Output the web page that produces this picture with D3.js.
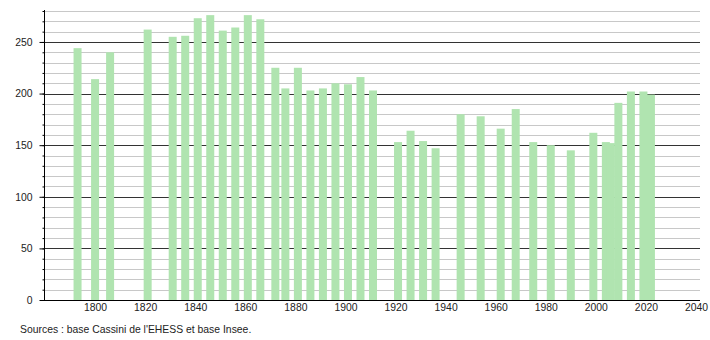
<!DOCTYPE html>
<html>
<head>
<meta charset="utf-8">
<script src="https://cdn.jsdelivr.net/npm/d3@7"></script>
<style>
  body { margin: 0; background: #fff; }
  svg { font-family: "Liberation Sans", Arial, sans-serif; }
</style>
</head>
<body>
<script>
// census years and population
var years = [1793, 1800, 1806, 1821, 1831, 1836, 1841, 1846, 1851, 1856, 1861, 1866,
	1872, 1876, 1881, 1886, 1891, 1896, 1901, 1906, 1911, 1921, 1926, 1931, 1936,
	1946, 1954, 1962, 1968, 1975, 1982, 1990, 1999, 2004, 2006, 2009, 2014, 2019, 2022];
var population = [244, 214, 240, 262, 255, 256, 273, 276, 261, 264, 276, 272,
	225, 205, 225, 203, 205, 210, 209, 216, 203, 153, 164, 154, 147,
	180, 178, 166, 185, 153, 150, 145, 162, 153, 152, 191, 202, 202, 199];

var xTicks = [1800, 1820, 1840, 1860, 1880, 1900, 1920, 1940, 1960, 1980, 2000, 2020, 2040];
var yMajor = [0, 50, 100, 150, 200, 250];
var yMinor = d3.range(0, 290, 10);
var source = "Sources : base Cassini de l'EHESS et base Insee.";

var width = 710,
		height = 340;

// plot edges (not "top": that name is taken by window.top)
var plotLeft = 44, plotRight = 700, plotBottom = 300, plotTop = 11;
var fontSize = 10.4;

var x = d3.scaleLinear()
	.domain([1780, 2042])
	.range([plotLeft + 1, plotRight + 1]);

var y = d3.scaleLinear()
	.domain([0, 280])
	.range([plotBottom, plotTop]);

var svg = d3.select('body')
	.append('svg')
	.attr('width', width)
	.attr('height', height);

// gridlines, dark every 50
svg.append('g')
	.selectAll('line')
	.data(yMinor.filter(function(d) { return d > 0; }))
	.enter().append('line')
	.attr('x1', plotLeft)
	.attr('x2', plotRight)
	.attr('y1', function(d) { return Math.round(y(d)) + 0.5; })
	.attr('y2', function(d) { return Math.round(y(d)) + 0.5; })
	.attr('stroke', function(d) { return d % 50 === 0 ? '#333' : '#c8c8c8'; })
	.attr('stroke-width', 1);

// bars
svg.append('g')
	.selectAll('rect')
	.data(years)
	.enter().append('rect')
	.attr('x', function(d) { return x(d) - 4; })
	.attr('width', 8)
	.attr('y', function(d, i) { return y(population[i]); })
	.attr('height', function(d, i) { return plotBottom - y(population[i]); })
	.attr('fill', '#b0e4b0');

// y axis: minor then major ticks
var yMinorAxis = d3.axisLeft(y).tickValues(yMinor).tickSize(2).tickFormat('');
var yAxis = d3.axisLeft(y).tickValues(yMajor).tickSize(5).tickPadding(7);

svg.append('g')
	.attr('transform', 'translate(' + (plotLeft + 0.5) + ',0)')
	.call(yMinorAxis)
	.call(function(g) { g.select('.domain').remove(); });

var gy = svg.append('g')
	.attr('transform', 'translate(' + (plotLeft + 0.5) + ',0)')
	.call(yAxis);
gy.select('.domain').remove();
gy.selectAll('text').attr('font-size', fontSize).attr('fill', '#222').attr('font-family', null);

svg.append('line')
	.attr('x1', plotLeft + 0.5).attr('x2', plotLeft + 0.5)
	.attr('y1', plotTop - 1).attr('y2', plotBottom)
	.attr('stroke', '#000');

// x axis
var gx = svg.append('g')
	.attr('transform', 'translate(0,' + plotBottom + ')')
	.call(d3.axisBottom(x).tickValues(xTicks).tickSize(0).tickPadding(4).tickFormat(d3.format('d')));
gx.select('.domain').remove();
gx.selectAll('text').attr('font-size', fontSize).attr('fill', '#222').attr('font-family', null);

svg.append('line')
	.attr('x1', plotLeft).attr('x2', plotRight)
	.attr('y1', plotBottom + 0.5).attr('y2', plotBottom + 0.5)
	.attr('stroke', '#000');

svg.append('text')
	.attr('x', 20)
	.attr('y', 333)
	.attr('font-size', fontSize)
	.attr('fill', '#222')
	.text(source);
</script>
</body>
</html>
